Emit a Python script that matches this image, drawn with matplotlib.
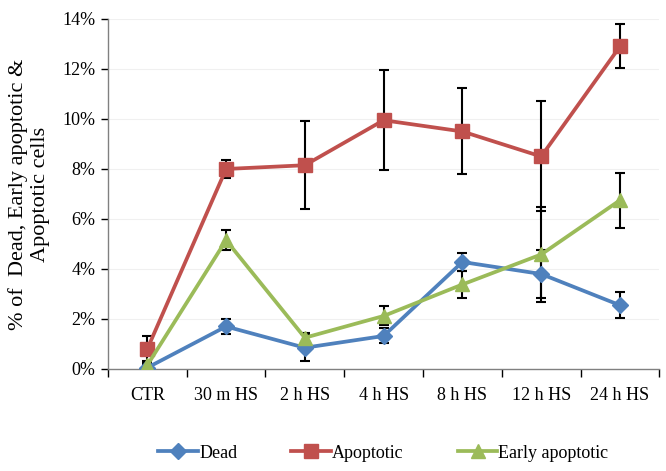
import numpy as np
import matplotlib
matplotlib.use("Agg")
import matplotlib.pyplot as plt
from matplotlib.ticker import FuncFormatter, MultipleLocator

plt.rcParams['font.family'] = ['Liberation Serif', 'DejaVu Serif']

# data (percent)
labels = ['CTR', '30 m HS', '2 h HS', '4 h HS', '8 h HS', '12 h HS', '24 h HS']
dead = [0.05, 1.7, 0.85, 1.32, 4.28, 3.8, 2.55]
dead_err = [0.1, 0.3, 0.55, 0.3, 0.36, 0.95, 0.52]
apopt = [0.8, 8.0, 8.15, 9.95, 9.5, 8.5, 12.9]
apopt_err = [0.5, 0.35, 1.75, 2.0, 1.72, 2.2, 0.88]
early = [0.15, 5.15, 1.25, 2.12, 3.38, 4.58, 6.75]
early_err = [0.1, 0.4, 0.2, 0.38, 0.55, 1.9, 1.1]

blue = '#4F81BD'
red = '#C0504D'
green = '#9BBB59'

fig = plt.figure(figsize=(6.66, 4.71), dpi=100)
ax = fig.add_axes([0.162, 0.2166, 0.828, 0.7431])

x = np.arange(len(labels))

# error bars sit under the markers
for vals, errs in [(dead, dead_err), (apopt, apopt_err), (early, early_err)]:
    ax.errorbar(x, vals, yerr=errs, fmt='none', ecolor='black', elinewidth=1.5,
                capsize=3.5, capthick=1.5, zorder=2)

ax.plot(x, dead, color=blue, lw=2.7, marker='D', ms=8, mec=blue, label='Dead', zorder=3)
ax.plot(x, apopt, color=red, lw=2.7, marker='s', ms=9.5, mec=red, label='Apoptotic', zorder=3)
ax.plot(x, early, color=green, lw=2.7, marker='^', ms=10, mec=green, label='Early apoptotic', zorder=3)

ax.set_ylim(0, 14)
ax.set_xlim(-0.5, 6.5)
ax.yaxis.set_major_locator(MultipleLocator(2))
ax.yaxis.set_major_formatter(FuncFormatter(lambda v, p: '%d%%' % v))
ax.grid(axis='y', color='#f0f0f0', lw=0.8)
ax.set_axisbelow(True)

# Excel style: ticks between categories, labels centred on them
ax.set_xticks(np.arange(-0.5, 7, 1))
ax.set_xticklabels([])
ax.set_xticks(x, minor=True)
ax.set_xticklabels(labels, minor=True)
ax.tick_params(axis='x', which='minor', length=0, pad=13, labelsize=13)
ax.tick_params(axis='x', which='major', length=6, width=1, direction='out')
ax.tick_params(axis='y', length=5, width=1, labelsize=13, direction='out', pad=4)

for s in ['top', 'right']:
    ax.spines[s].set_visible(False)
for s in ['left', 'bottom']:
    ax.spines[s].set_color('#808080')
    ax.spines[s].set_linewidth(1)

fig.text(29 / 666, 1 - 194 / 471, '% of  Dead, Early apoptotic &\nApoptotic cells',
         rotation=90, ha='center', va='center', fontsize=16, linespacing=1.15)

ax.legend(loc='center', bbox_to_anchor=(0.5758, 0.038), bbox_transform=fig.transFigure,
          ncol=3, frameon=False, fontsize=13, handlelength=2.2, handletextpad=0.05,
          columnspacing=3.0)

fig.savefig('out.png', dpi=100)
